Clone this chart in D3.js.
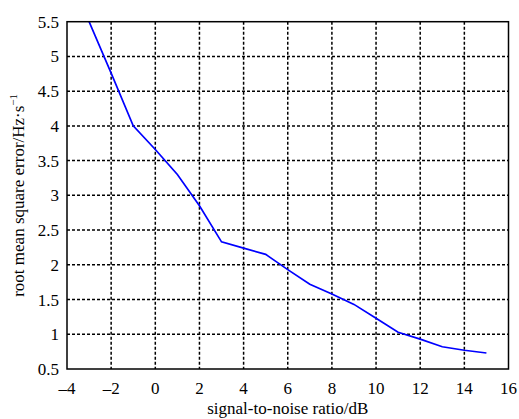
<!DOCTYPE html>
<html><head><meta charset="utf-8">
<script src="https://cdn.jsdelivr.net/npm/d3@7"></script>
<style>body{margin:0;background:#fff}svg{display:block}</style>
</head><body>
<svg id="chart" width="519" height="419" style="font-family:'Liberation Serif'"></svg>
<script>
const snr = [-3,-2,-1,0,1,2,3,4,5,6,7,8,9,10,11,12,13,14,15];
const rmse = [5.5,4.76,4.0,3.66,3.3,2.85,2.33,2.24,2.15,1.93,1.72,1.58,1.43,1.23,1.03,0.93,0.82,0.77,0.73];
const xTicks = [-4,-2,0,2,4,6,8,10,12,14,16];
const yTicks = [0.5,1,1.5,2,2.5,3,3.5,4,4.5,5,5.5];
const xLabel = "signal-to-noise ratio/dB";
const yLabel = "root mean square error/Hz\u00b7s";

const pL=67, pR=508.5, pT=21.7, pB=369;
const FST="font-family:'Liberation Serif';font-size:17px;fill:#000";
const svg=d3.select("#chart");
const sx=d3.scaleLinear().domain([-4,16]).range([pL,pR]);
const sy=d3.scaleLinear().domain([0.5,5.5]).range([pB,pT]);

svg.append("g").selectAll("line").data(xTicks.slice(1,-1)).join("line")
 .attr("x1",d=>sx(d)).attr("x2",d=>sx(d)).attr("y1",pT).attr("y2",pB)
 .attr("stroke","#000").attr("stroke-width",1.5).attr("stroke-dasharray","3,2");
svg.append("g").selectAll("line").data(yTicks.slice(1,-1)).join("line")
 .attr("y1",d=>sy(d)).attr("y2",d=>sy(d)).attr("x1",pL).attr("x2",pR)
 .attr("stroke","#000").attr("stroke-width",1.5).attr("stroke-dasharray","3,2");

svg.append("g").selectAll("text").data(xTicks).join("text")
 .attr("x",d=>sx(d)).attr("y",pB+25).attr("text-anchor","middle")
 .attr("style",FST)
 .text(d=>d<0?"\u2013"+Math.abs(d):String(d));
svg.append("g").selectAll("text").data(yTicks).join("text")
 .attr("x",pL-8).attr("y",d=>sy(d)+6).attr("text-anchor","end")
 .attr("style",FST)
 .text(d=>String(d));

svg.append("clipPath").attr("id","plotclip").append("rect")
 .attr("x",pL).attr("y",pT).attr("width",pR-pL).attr("height",pB-pT);
svg.append("path").datum(snr.map((s,i)=>[s,rmse[i]]))
 .attr("clip-path","url(#plotclip)")
 .attr("d",d3.line().x(d=>sx(d[0])).y(d=>sy(d[1])))
 .attr("fill","none").attr("stroke","#0000ff").attr("stroke-width",1.7);

svg.append("rect").attr("x",pL).attr("y",pT).attr("width",pR-pL).attr("height",pB-pT)
 .attr("fill","none").attr("stroke","#000").attr("stroke-width",1.5);

svg.append("text").attr("x",(pL+pR)/2).attr("y",414).attr("text-anchor","middle")
 .attr("style",FST).text(xLabel);
const yl=svg.append("text").attr("transform",`translate(24,${(pT+pB)/2}) rotate(-90)`)
 .attr("text-anchor","middle").attr("style",FST);
yl.append("tspan").text(yLabel);
yl.append("tspan").attr("dy",-7).attr("style","font-size:11px").text("\u22121");
</script>
</body></html>
